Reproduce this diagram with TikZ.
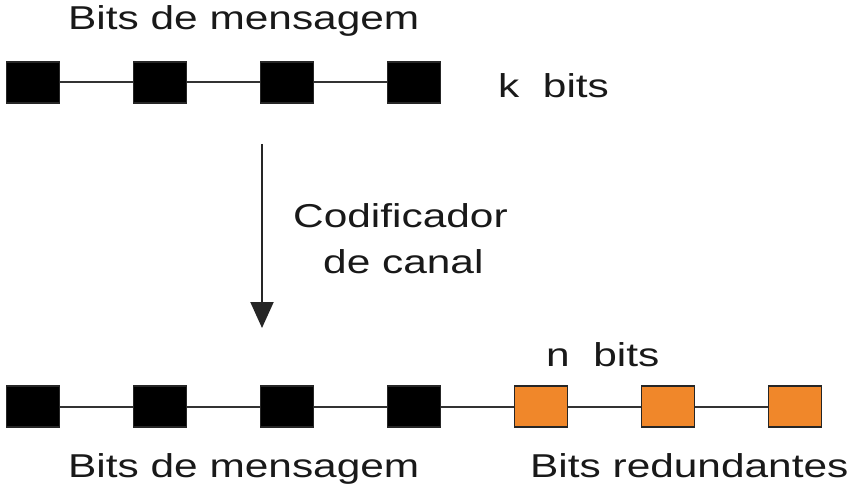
\documentclass[tikz,border=0pt]{standalone}
\usepackage{fontspec}
\setmainfont{Liberation Sans}
\usetikzlibrary{arrows.meta}
\definecolor{bitorange}{RGB}{240,135,42}
\newcommand{\lbltext}[1]{\scalebox{1}[0.78]{#1}}

\begin{document}
\begin{tikzpicture}[x=1pt, y=-1pt, >=stealth,
        bitbox/.style={draw=black!85, line width=1.6pt, fill=black, minimum width=53pt, minimum height=41pt, inner sep=0pt},
        redbox/.style={bitbox, fill=bitorange},
        link/.style={line width=2pt, black!80},
        lbl/.style={inner sep=0pt, anchor=base west, text=black!90, font=\fontsize{42.4}{45}\selectfont}]
                \useasboundingbox (0,0) rectangle (856,486);

                % mensagem original
                \node[bitbox] (a1) at (33, 82.5) {};
                \node[bitbox] (a2) at (160, 82.5) {};
                \node[bitbox] (a3) at (287, 82.5) {};
                \node[bitbox] (a4) at (414, 82.5) {};
                \draw[link] (a1) -- (a2);
                \draw[link] (a2) -- (a3);
                \draw[link] (a3) -- (a4);

                \node[lbl] (topmsg) at (68, 30) {\lbltext{Bits de mensagem}};
                \node[lbl] (kbits) at (498, 98) {\lbltext{k\ \ bits}};

                % codificador
                \coordinate (arrtop) at (262, 144);
                \coordinate (arrend) at (262, 328);
                \draw[line width=2pt, black!85, -{Triangle[length=26pt, width=23pt]}] (arrtop) -- (arrend);
                \node[lbl] (cod1) at (293, 228) {\lbltext{Codificador}};
                \node[lbl] (cod2) at (323, 273) {\lbltext{de canal}};

                % palavra de codigo
                \node[bitbox] (b1) at (33, 406.5) {};
                \node[bitbox] (b2) at (160, 406.5) {};
                \node[bitbox] (b3) at (287, 406.5) {};
                \node[bitbox] (b4) at (414, 406.5) {};
                \node[redbox] (b5) at (541, 406.5) {};
                \node[redbox] (b6) at (668, 406.5) {};
                \node[redbox] (b7) at (795, 406.5) {};
                \draw[link] (b1) -- (b2);
                \draw[link] (b2) -- (b3);
                \draw[link] (b3) -- (b4);
                \draw[link] (b4) -- (b5);
                \draw[link] (b5) -- (b6);
                \draw[link] (b6) -- (b7);

                \node[lbl] (nbits) at (546, 366) {\lbltext{n\ \ bits}};
                \node[lbl] (botmsg) at (68, 477) {\lbltext{Bits de mensagem}};
                \node[lbl] (redund) at (530, 477) {\lbltext{Bits redundantes}};
            \end{tikzpicture}
\end{document}
